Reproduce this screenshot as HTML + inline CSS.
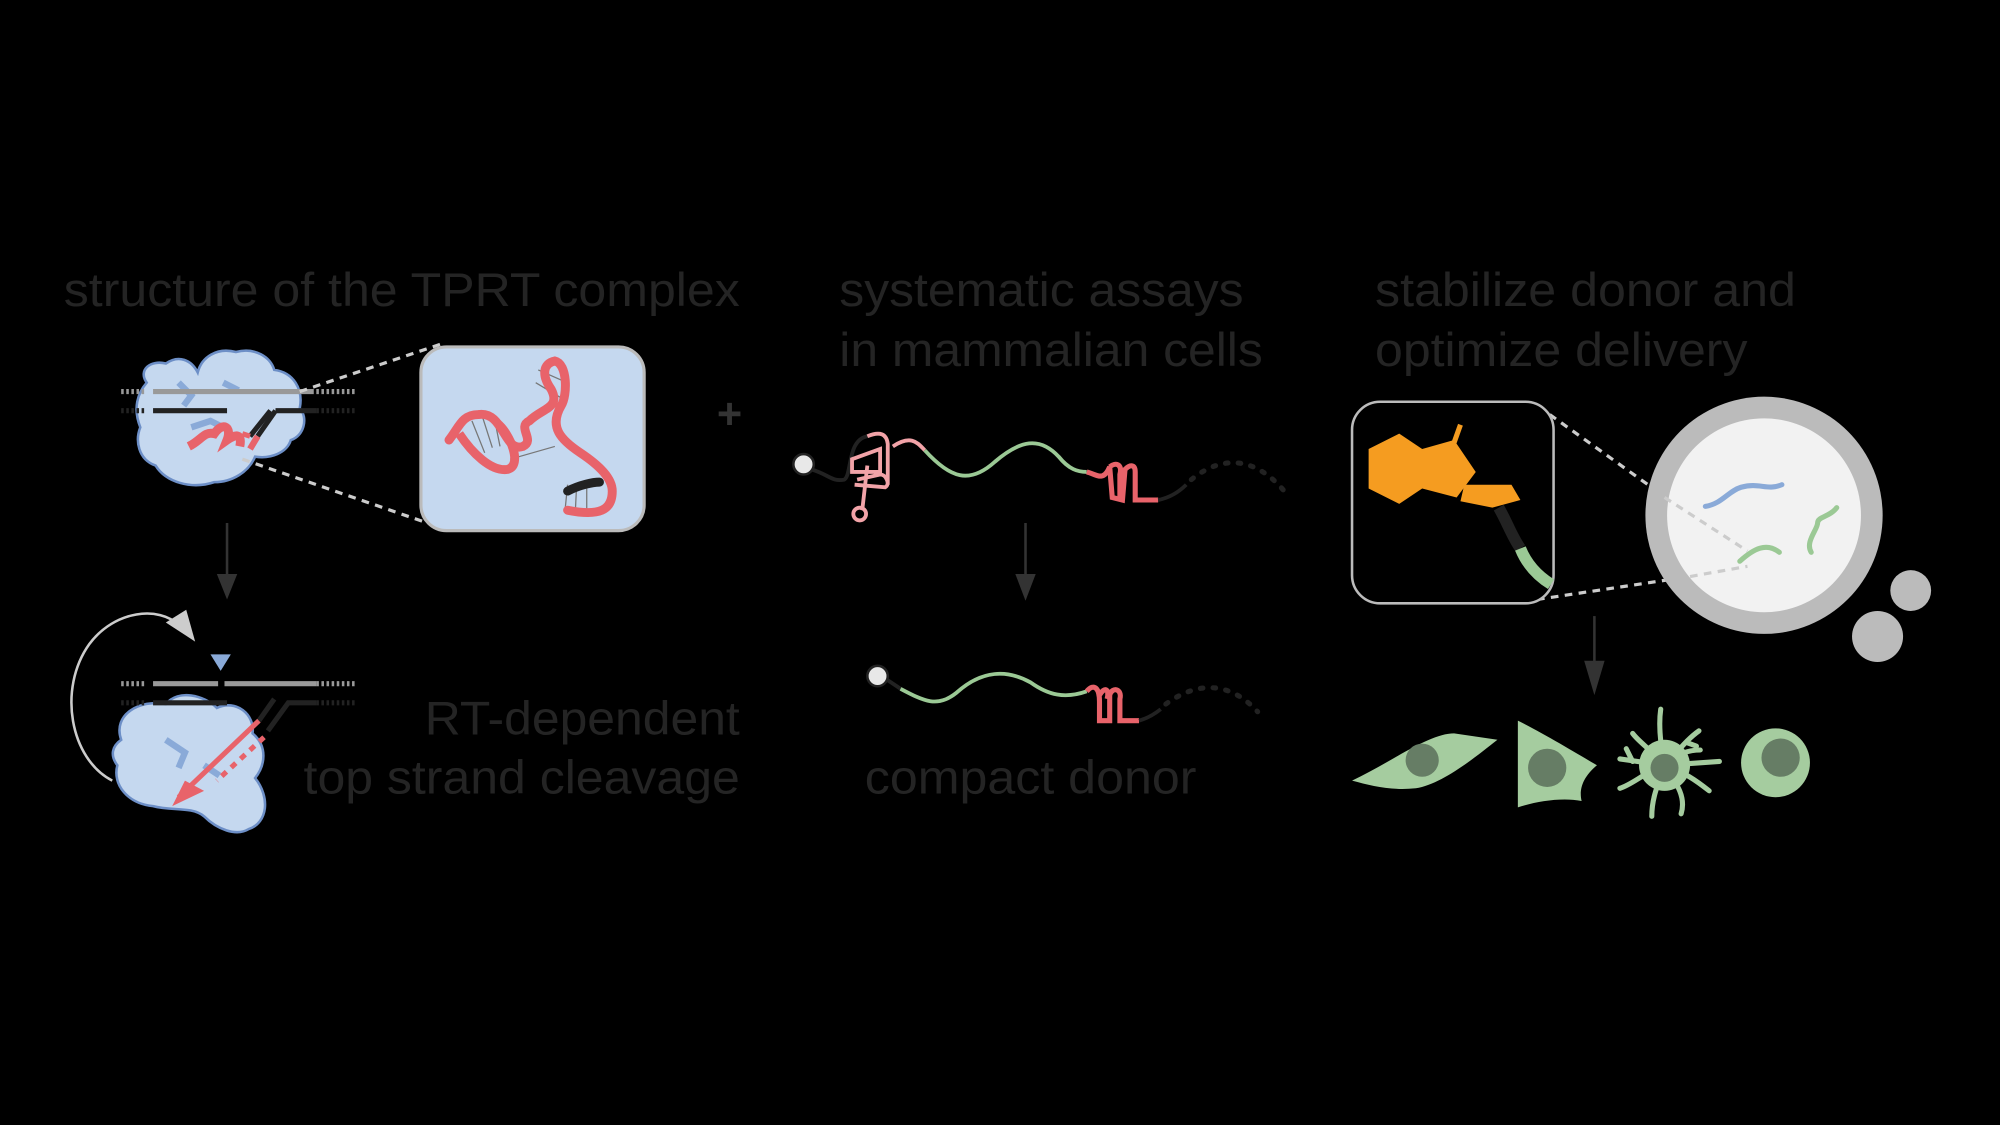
<!DOCTYPE html>
<html><head><meta charset="utf-8"><style>
html,body{margin:0;padding:0;background:#000;width:2000px;height:1125px;overflow:hidden}
svg{display:block}
text{font-family:"Liberation Sans",sans-serif;fill:#242424}
</style></head><body>
<svg width="2000" height="1125" viewBox="0 0 1568 882" xmlns="http://www.w3.org/2000/svg">
<rect width="1568" height="882" fill="#000"/>
<!-- texts -->
<text x="50" y="240" font-size="37" textLength="530" lengthAdjust="spacingAndGlyphs">structure of the TPRT complex</text>
<text x="658" y="240" font-size="37" textLength="317" lengthAdjust="spacingAndGlyphs">systematic assays</text>
<text x="658" y="287" font-size="37" textLength="332" lengthAdjust="spacingAndGlyphs">in mammalian cells</text>
<text x="1078" y="240" font-size="37" textLength="330" lengthAdjust="spacingAndGlyphs">stabilize donor and</text>
<text x="1078" y="287" font-size="37" textLength="292" lengthAdjust="spacingAndGlyphs">optimize delivery</text>
<text x="333" y="576" font-size="37" textLength="247" lengthAdjust="spacingAndGlyphs">RT-dependent</text>
<text x="238" y="622" font-size="37" textLength="342" lengthAdjust="spacingAndGlyphs">top strand cleavage</text>
<text x="678" y="622" font-size="37" textLength="260" lengthAdjust="spacingAndGlyphs">compact donor</text>
<text x="572" y="336" font-size="34" text-anchor="middle" font-weight="bold" style="fill:#333">+</text>

<!-- LEFT TOP -->
<path d="M115,300 C108,290 118,282 130,285 C140,278 150,282 155,292 C158,280 170,272 185,276 C200,272 212,280 215,290 C230,292 238,305 235,320 C242,328 238,342 228,345 C225,355 212,360 200,358 C195,370 182,378 168,378 C150,384 130,378 122,365 C108,360 106,345 110,335 C104,320 108,308 115,300Z" fill="#c5d8ef" stroke="#6d8fc7" stroke-width="2"/>
<path d="M140,300 l10,10 -6,8 M175,300 l12,6 M150,335 l15,-5 10,5" stroke="#8aaad8" stroke-width="5" fill="none"/>
<g stroke-width="4">
<line x1="95" y1="307" x2="113" y2="307" stroke="#999" stroke-dasharray="2,2"/>
<line x1="120" y1="307" x2="246" y2="307" stroke="#999"/>
<line x1="248" y1="307" x2="280" y2="307" stroke="#999" stroke-dasharray="2,2"/>
<line x1="95" y1="322" x2="113" y2="322" stroke="#222" stroke-dasharray="2,2"/>
<line x1="120" y1="322" x2="178" y2="322" stroke="#222"/>
<line x1="248" y1="322" x2="280" y2="322" stroke="#222" stroke-dasharray="2,2"/>
<path d="M216,322 L248,322" stroke="#222"/>
<path d="M212,322 L196,342" stroke="#222"/>
<path d="M216,322 L202,342" stroke="#222" fill="none"/>
<path d="M202,342 L196,352" stroke="#e8636a" stroke-width="5"/>
<path d="M196,342 L190,340" stroke="#e8636a"/>
</g>
<path d="M148,350 C158,345 160,338 168,340 C175,330 182,335 178,345 C185,340 190,340 188,350" stroke="#e8636a" stroke-width="7" fill="none"/>
<line x1="235" y1="307" x2="345" y2="270" stroke="#ccc" stroke-width="2.5" stroke-dasharray="6,5"/>
<line x1="190" y1="360" x2="335" y2="410" stroke="#ccc" stroke-width="2.5" stroke-dasharray="6,5"/>
<rect x="330" y="272" width="175" height="144" rx="20" fill="#c5d8ef" stroke="#bbb" stroke-width="2.5"/>
<g stroke="#777" stroke-width="1"><path d="M370,330 l10,25 M378,326 l8,25 M388,330 l4,20 M420,300 l20,12 M422,290 l18,8 M400,360 l35,-10 M445,380 l-2,20 M452,382 l-1,20 M460,382 l0,18"/></g>
<path d="M352,345 C360,335 362,325 375,325 C395,322 395,355 410,350 C420,345 405,335 415,330 C425,320 440,320 432,305 C425,295 425,285 435,283 C445,285 445,310 440,318 C430,335 440,345 455,355 C470,365 480,375 480,385 C480,400 470,405 445,400" stroke="#e8636a" stroke-width="7" fill="none" stroke-linecap="round"/>
<path d="M360,340 C370,355 385,370 398,368 C410,365 400,340 390,332" stroke="#e8636a" stroke-width="7" fill="none"/>
<path d="M445,385 C455,380 465,378 470,378" stroke="#222" stroke-width="7" fill="none" stroke-linecap="round"/>

<!-- arrow -->
<line x1="178" y1="410" x2="178" y2="460" stroke="#333" stroke-width="2"/>
<path d="M170,450 L178,470 L186,450 Z" fill="#333"/>

<!-- LEFT BOTTOM -->
<path d="M88,612 C55,595 45,540 70,505 C90,478 125,475 140,490" stroke="#ccc" stroke-width="2" fill="none"/>
<path d="M130,488 L153,503 L146,478 Z" fill="#ccc"/>
<path d="M95,580 C88,560 110,548 130,552 C140,540 160,545 170,555 C185,548 200,560 198,575 C210,585 208,600 200,610 C212,625 210,645 195,650 C185,656 170,650 160,640 C150,632 135,636 120,632 C100,630 88,615 92,600 C86,592 88,585 95,580Z" fill="#c5d8ef" stroke="#6d8fc7" stroke-width="2"/>
<path d="M130,580 l15,10 -5,12 M160,600 l12,8" stroke="#8aaad8" stroke-width="5" fill="none"/>
<path d="M165,513 L181,513 L173,526 Z" fill="#8aaad8"/>
<g stroke-width="4">
<line x1="95" y1="536" x2="113" y2="536" stroke="#999" stroke-dasharray="2,2"/>
<line x1="120" y1="536" x2="171" y2="536" stroke="#999"/>
<line x1="176" y1="536" x2="248" y2="536" stroke="#999"/>
<line x1="248" y1="536" x2="280" y2="536" stroke="#999" stroke-dasharray="2,2"/>
<line x1="95" y1="551" x2="113" y2="551" stroke="#222" stroke-dasharray="2,2"/>
<line x1="120" y1="551" x2="178" y2="551" stroke="#222"/>
<line x1="248" y1="551" x2="280" y2="551" stroke="#222" stroke-dasharray="2,2"/>
<path d="M248,551 L226,551 L210,573" stroke="#222" fill="none"/>
<path d="M215,548 L203,565" stroke="#222"/>
</g>
<path d="M203,565 L140,625" stroke="#e8636a" stroke-width="4"/>
<path d="M207,578 L170,612" stroke="#e8636a" stroke-width="4" stroke-dasharray="5,5"/>
<path d="M135,632 L160,620 L145,612 Z" fill="#e8636a"/>

<!-- MIDDLE -->
<path d="M636,368 C650,372 652,378 662,376 C668,372 664,345 680,342" stroke="#222" stroke-width="3" fill="none"/>
<circle cx="630" cy="364" r="8" fill="#e8e8e8" stroke="#222" stroke-width="2"/>
<path d="M680,342 C690,338 695,340 696,348 L696,380 M668,360 L690,352 L690,370 L668,370 Z M680,365 L676,400 M670,380 L694,382 C698,380 695,372 690,372 L672,376 M700,350 C715,340 720,348 725,353" stroke="#f2a3a8" stroke-width="3" fill="none"/>
<circle cx="674" cy="403" r="5" fill="none" stroke="#f2a3a8" stroke-width="3"/>
<path d="M725,353 C745,375 760,380 780,362 C800,345 815,342 830,358 C838,368 845,370 852,370" stroke="#9bc995" stroke-width="3" fill="none"/>
<path d="M852,370 C860,372 865,378 870,366 L872,390 L880,392 L882,368 C886,364 890,364 890,370 L890,392 L908,392" stroke="#e8636a" stroke-width="4" fill="none"/>
<path d="M870,366 C875,362 880,364 878,372 L878,390" stroke="#e8636a" stroke-width="4" fill="none"/>
<path d="M908,392 C918,390 925,385 930,380" stroke="#222" stroke-width="3" fill="none"/>
<path d="M934,376 C960,355 985,360 1006,384" stroke="#222" stroke-width="4" fill="none" stroke-dasharray="2,8" stroke-linecap="round"/>

<line x1="804" y1="410" x2="804" y2="460" stroke="#333" stroke-width="2"/>
<path d="M796,450 L804,471 L812,450 Z" fill="#333"/>

<path d="M694,532 L706,540" stroke="#222" stroke-width="3"/>
<circle cx="688" cy="530" r="8" fill="#e8e8e8" stroke="#222" stroke-width="2"/>
<path d="M706,540 C725,550 735,555 750,543 C770,525 790,525 808,535 C822,545 835,548 852,542" stroke="#9bc995" stroke-width="3" fill="none"/>
<path d="M852,542 C858,535 862,540 862,550 L862,565 L870,565 L870,545 C872,538 880,540 878,548 L878,565 L893,565 M862,545 C866,538 870,540 868,548" stroke="#e8636a" stroke-width="4" fill="none"/>
<path d="M893,565 C900,563 905,560 910,556" stroke="#222" stroke-width="3" fill="none"/>
<path d="M914,552 C940,533 965,535 986,558" stroke="#222" stroke-width="4" fill="none" stroke-dasharray="2,8" stroke-linecap="round"/>

<!-- RIGHT -->
<line x1="1215" y1="325" x2="1292" y2="380" stroke="#ccc" stroke-width="2.5" stroke-dasharray="6,5"/>
<line x1="1205" y1="470" x2="1325" y2="452" stroke="#ccc" stroke-width="2.5" stroke-dasharray="6,5"/>
<rect x="1060" y="315" width="158" height="158" rx="22" fill="#000" stroke="#bbb" stroke-width="2"/>
<path d="M1073,352 L1097,340 L1115,352 L1140,345 L1157,370 L1142,390 L1115,383 L1097,395 L1073,383 Z" fill="#f59c20"/>
<line x1="1140" y1="347" x2="1145" y2="333" stroke="#f59c20" stroke-width="4"/>
<path d="M1148,380 L1185,380 L1192,392 L1170,398 L1145,393 Z" fill="#f59c20"/>
<path d="M1175,398 C1182,410 1185,420 1192,430" stroke="#222" stroke-width="9" fill="none"/>
<path d="M1192,430 C1198,445 1208,453 1216,458" stroke="#9bc995" stroke-width="9" fill="none"/>
<circle cx="1383" cy="404" r="93" fill="#bbbbbb"/>
<circle cx="1383" cy="404" r="76" fill="#f2f2f2"/>
<line x1="1305" y1="390" x2="1370" y2="432" stroke="#ccc" stroke-width="2.5" stroke-dasharray="6,5"/>
<line x1="1325" y1="452" x2="1370" y2="444" stroke="#ccc" stroke-width="2.5" stroke-dasharray="6,5"/>
<path d="M1337,397 C1350,395 1355,385 1365,382 C1380,378 1385,385 1397,380" stroke="#8aaad8" stroke-width="4" fill="none" stroke-linecap="round"/>
<path d="M1364,440 C1375,430 1385,425 1395,433" stroke="#9bc995" stroke-width="4" fill="none" stroke-linecap="round"/>
<path d="M1420,433 C1415,425 1425,415 1425,410 C1425,405 1435,405 1440,398" stroke="#9bc995" stroke-width="4" fill="none" stroke-linecap="round"/>
<circle cx="1498" cy="463" r="16" fill="#bbbbbb"/>
<circle cx="1472" cy="499" r="20" fill="#bbbbbb"/>

<line x1="1250" y1="483" x2="1250" y2="528" stroke="#333" stroke-width="2"/>
<path d="M1242,518 L1250,545 L1258,518 Z" fill="#333"/>

<!-- cells -->
<path d="M1060,612 C1090,598 1120,575 1140,575 L1174,580 C1155,595 1130,615 1110,618 C1090,620 1075,616 1060,612Z" fill="#a5cc9f"/>
<circle cx="1115" cy="596" r="13" fill="#667d65"/>
<path d="M1190,565 C1210,575 1235,590 1252,600 C1240,610 1238,620 1240,628 C1225,625 1205,628 1190,633 Z" fill="#a5cc9f"/>
<circle cx="1213" cy="602" r="15" fill="#667d65"/>
<g stroke="#a5cc9f" stroke-width="4" fill="none" stroke-linecap="round">
<path d="M1305,600 C1302,585 1300,570 1302,556"/>
<path d="M1305,600 C1315,590 1322,580 1332,573 M1322,582 l8,3"/>
<path d="M1305,600 L1348,597"/>
<path d="M1305,600 C1320,605 1330,612 1340,620"/>
<path d="M1305,600 C1315,615 1322,625 1318,638"/>
<path d="M1305,600 C1300,615 1295,625 1295,640"/>
<path d="M1305,600 C1290,605 1280,615 1270,618"/>
<path d="M1305,600 L1270,595 M1280,597 l-5,-10"/>
<path d="M1305,600 C1295,588 1285,582 1280,575"/>
<path d="M1305,600 C1315,590 1325,588 1333,588"/>
</g>
<circle cx="1305" cy="600" r="20" fill="#a5cc9f"/>
<circle cx="1305" cy="602" r="11" fill="#667d65"/>
<circle cx="1392" cy="598" r="27" fill="#a5cc9f"/>
<circle cx="1396" cy="594" r="15" fill="#667d65"/>
</svg>
</body></html>
